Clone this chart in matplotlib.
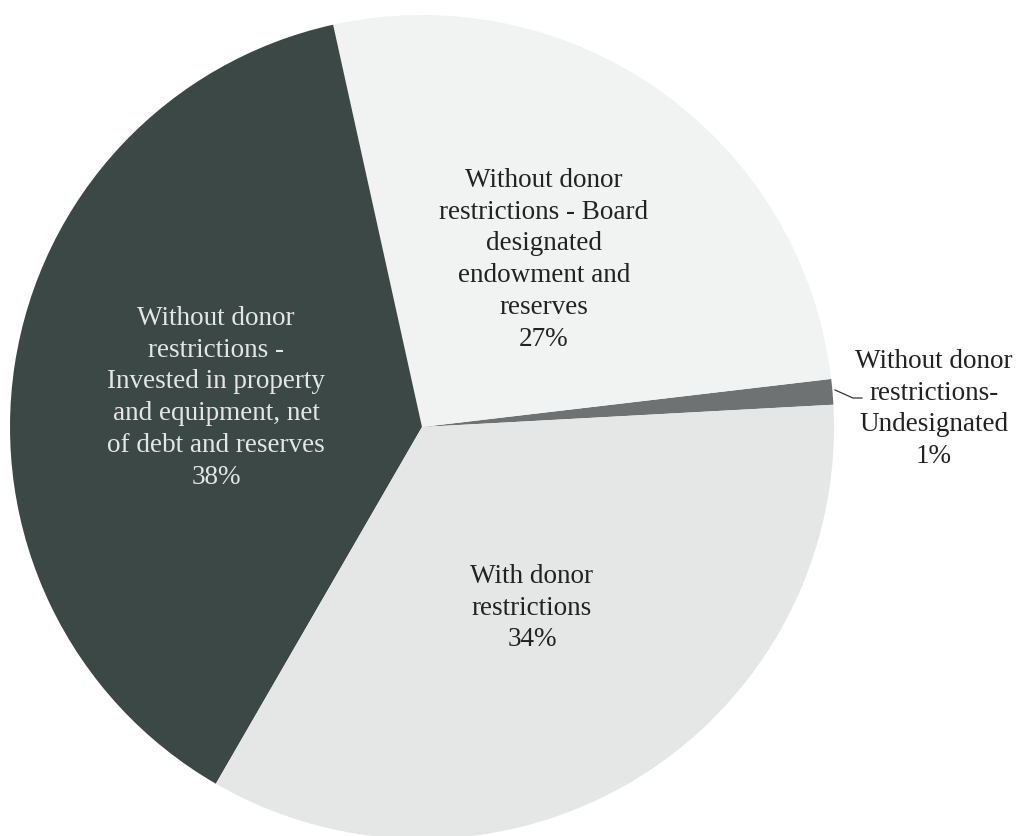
import matplotlib.pyplot as plt

# slices in counterclockwise order starting from the thin one on the right
labels = ['Without donor\nrestrictions-\nUndesignated\n1%',
          'Without donor\nrestrictions - Board\ndesignated\nendowment and\nreserves\n27%',
          'Without donor\nrestrictions -\nInvested in property\nand equipment, net\nof debt and reserves\n38%',
          'With donor\nrestrictions\n34%']
shares = [1.0, 26.6, 38.2, 34.2]
colors = ['#6e7272', '#f1f2f2', '#3c4846', '#e5e7e7']
text_colors = ['#222222', '#222222', '#e4e6e6', '#222222']

plt.rcParams['font.family'] = ['Liberation Serif', 'DejaVu Serif']

fig = plt.figure(figsize=(10.22, 8.36), dpi=100)
ax = fig.add_axes([0, 0, 1, 1])

ax.pie(shares, colors=colors, radius=412, startangle=3.1, counterclock=True,
       wedgeprops=dict(linewidth=0))

ax.set_xlim(-422, 600)
ax.set_ylim(-409, 427)
ax.set_aspect('equal')
ax.axis('off')

# label anchor = centre x, baseline of first line (pie centre at 0,0)
label_pos = [(512, 59), (122, 240), (-206, 102), (110, -156)]
line_step = 31.7
for txt, (x, y), c in zip(labels, label_pos, text_colors):
    for i, line in enumerate(txt.split('\n')):
        ax.text(x, y - i * line_step, line, ha='center', va='baseline',
                fontsize=19.5, color=c)

# leader line for the small slice
ax.plot([413, 431, 440], [37, 29, 29], color='#333333', linewidth=0.9)

fig.savefig('out.png', dpi=100)
